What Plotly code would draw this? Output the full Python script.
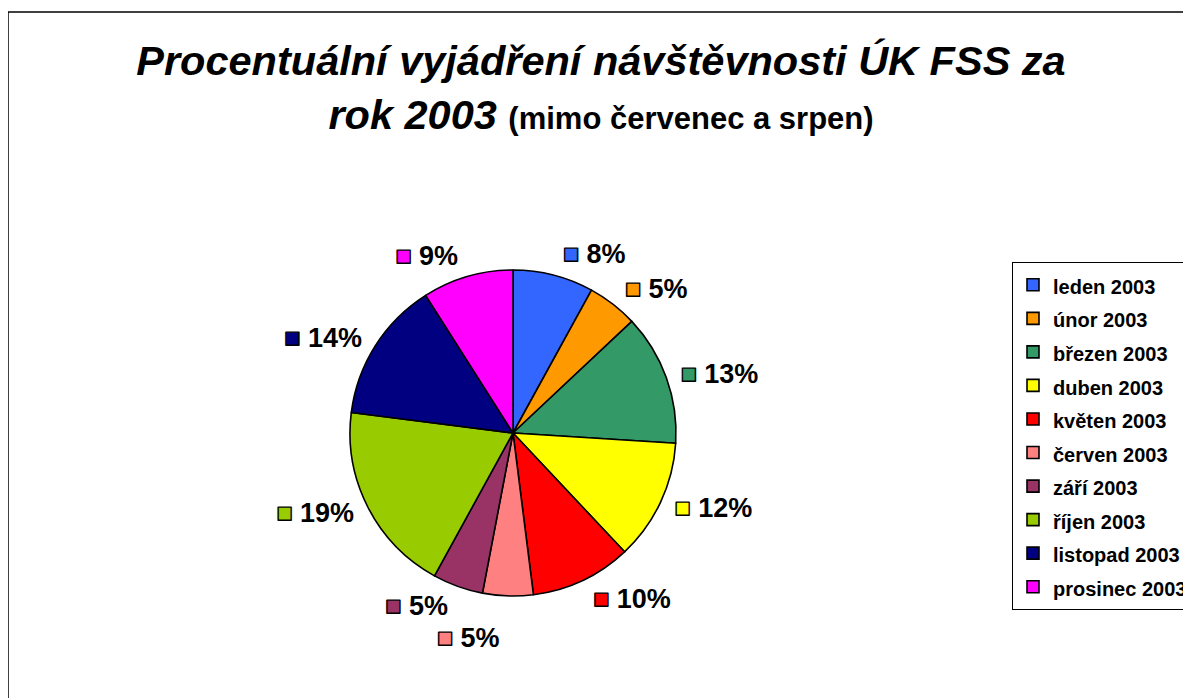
import plotly.graph_objects as go

labels = ["leden 2003", "únor 2003", "březen 2003", "duben 2003", "květen 2003",
          "červen 2003", "září 2003", "říjen 2003", "listopad 2003", "prosinec 2003"]
values = [8, 5, 13, 12, 10, 5, 5, 19, 14, 9]
colors = ["#3366FF", "#FF9900", "#339966", "#FFFF00", "#FF0000",
          "#FF8080", "#993366", "#99CC00", "#000080", "#FF00FF"]

W, H = 1183, 690          # page has an 8px body margin
OFF = 8
FONT = "Liberation Sans, Arial"

# pie geometry (screen px of reference)
cx, cy, r = 513 - OFF, 433 - OFF, 163
# radius at which each outside label sits (the small "červen" slice is pushed out a bit more)
r_text = [170, 170, 170, 170, 170, 190, 170, 170, 170, 170]


def dom(rad):
    return dict(x=[(cx - rad) / W, (cx + rad) / W],
                y=[1 - (cy + rad) / H, 1 - (cy - rad) / H])


def label_tpl(c):
    return (f"<span style='color:{c};stroke:#000000;stroke-width:1.4px;font-size:27px'>■</span>"
            f" %{{percent:.0%}}")


fig = go.Figure()
# one transparent pie per label, so labels stay at their own angle
for i, c in enumerate(colors):
    tpl = [label_tpl(c) if j == i else "" for j in range(len(values))]
    fig.add_trace(go.Pie(
        labels=labels, values=values, sort=False, direction="clockwise", rotation=0,
        marker=dict(colors=["rgba(0,0,0,0)"] * len(values), line=dict(width=0)),
        texttemplate=tpl, textposition="outside",
        textfont=dict(family=FONT, size=27, color="black", weight="bold"),
        domain=dom(r_text[i]), showlegend=False, hoverinfo="skip",
    ))

legend_labels = [f"<span style='font-size:20px'>{l}</span>" for l in labels]
fig.add_trace(go.Pie(
    labels=legend_labels, values=values, sort=False, direction="clockwise", rotation=0,
    marker=dict(colors=colors, line=dict(color="black", width=1.6)),
    textinfo="none",
    domain=dom(r),
    hovertext=labels, hoverinfo="text+percent",
))

fig.update_layout(
    width=W, height=H,
    margin=dict(l=0, r=0, t=0, b=0, autoexpand=False),
    paper_bgcolor="white", plot_bgcolor="white",
    title=dict(
        text="<i>Procentuální vyjádření návštěvnosti ÚK FSS za<br>rok 2003</i> "
             "<span style='font-size:31px'>(mimo červenec a srpen)</span>",
        x=(601 - OFF) / W, xanchor="center", y=1 - 67 / H, yanchor="top",
        font=dict(family=FONT, size=41.5, color="black", weight="bold"),
    ),
    legend=dict(
        x=(1012 - OFF) / W, xanchor="left", y=1 - (262 - OFF) / H, yanchor="top",
        bordercolor="black", borderwidth=1, bgcolor="white",
        font=dict(family=FONT, size=23.5, color="black", weight="bold"),
        traceorder="normal", itemwidth=30,
    ),
    shapes=[
        dict(type="line", xref="paper", yref="paper", x0=0, x1=0, y0=0, y1=1 - (12 - OFF) / H,
             line=dict(color="black", width=1.5)),
        dict(type="line", xref="paper", yref="paper", x0=0, x1=1, y0=1 - (12 - OFF) / H,
             y1=1 - (12 - OFF) / H, line=dict(color="black", width=1.5)),
    ],
)

fig.write_html("out.html")
